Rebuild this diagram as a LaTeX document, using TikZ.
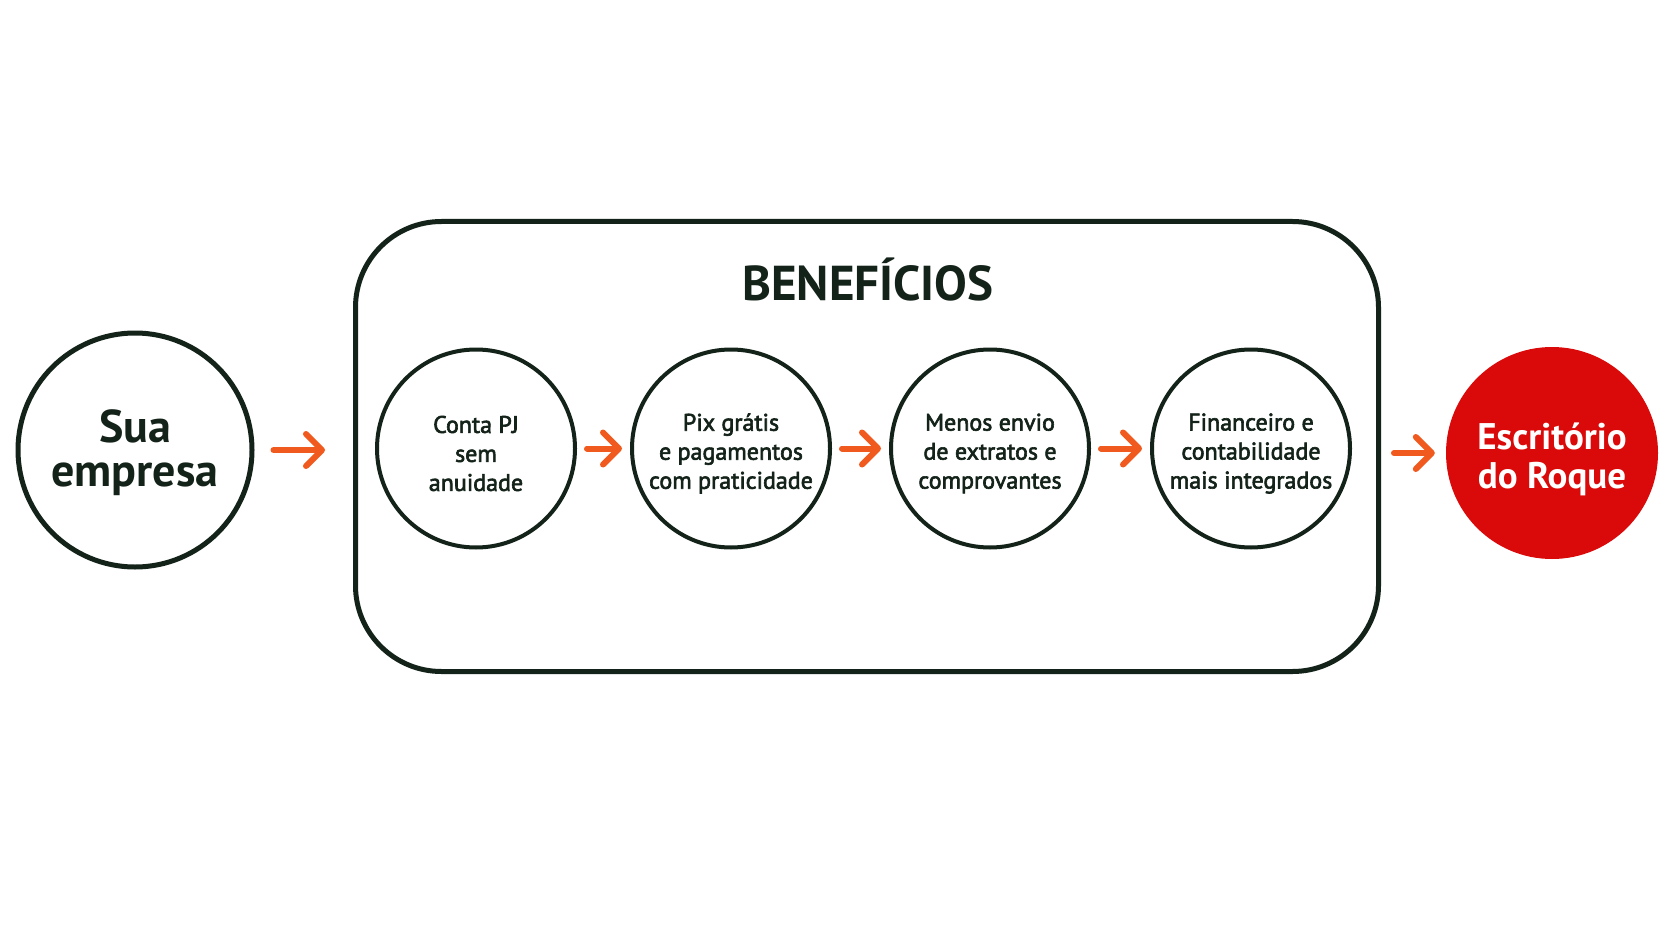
\documentclass[tikz,border=0pt]{standalone}
\usepackage{fontspec}
\setmainfont{PT Sans}
\newfontfamily\medfont{PT Sans}[FakeBold=2.5]
\usetikzlibrary{arrows.meta}

\definecolor{darkline}{HTML}{14231A}
\definecolor{arrorange}{HTML}{F05A1E}
\definecolor{roquered}{HTML}{DA0A0A}

\tikzset{
  stage/.style={circle, draw=darkline, line width=4pt, minimum size=198pt, inner sep=0pt},
  stagetext/.style={align=center, text=darkline, yshift=-5pt, font=\medfont\fontsize{24}{29}\selectfont},
  flow/.style={draw=arrorange, line width=6pt, line cap=round,
    -{Straight Barb[round, length=16pt, width=32pt]}},
}

\begin{document}
\begin{tikzpicture}[x=1pt, y=-1pt]
        \useasboundingbox (0,0) rectangle (1672,941);
        \fill[white] (0,0) rectangle (1672,941);

        % start and end
        \node[circle, draw=darkline, line width=5pt, minimum size=234pt, align=center, text=darkline,
          font=\bfseries\fontsize{46}{44}\selectfont] (sua) at (135,450) {\rule{0pt}{39pt}Sua\\empresa};
        \node[circle, fill=roquered, minimum size=212pt, align=center, text=white,
          font=\bfseries\fontsize{37}{39}\selectfont] (roque) at (1552,453) {\rule{0pt}{39pt}Escritório\\do Roque};

        % benefits frame
        \node[draw=darkline, line width=5pt, rounded corners=86pt, minimum width=1023pt,
          minimum height=450pt] (box) at (867,446.5) {};
        \node[anchor=base, text=darkline, font=\bfseries\fontsize{49}{56}\selectfont] (title) at (868,300) {BENEFÍCIOS};

        \node[stage, label={[stagetext]center:{Conta PJ\\sem\\anuidade}}] (c1) at (476,448.5) {};
        \node[stage, label={[stagetext]center:{Pix grátis\\e pagamentos\\com praticidade}}] (c2) at (731,448.5) {};
        \node[stage, label={[stagetext]center:{Menos envio\\de extratos e\\comprovantes}}] (c3) at (990,448.5) {};
        \node[stage, label={[stagetext]center:{Financeiro e\\contabilidade\\mais integrados}}] (c4) at (1251,448.5) {};

        % arrows
        \draw[flow, shorten <=19pt, shorten >=28pt] (sua) -- (box.west |- sua);
        \foreach \a/\b in {c1/c2, c2/c3, c3/c4}
          \draw[flow, shorten <=10pt, shorten >=8pt] (\a) -- (\b);
        \draw[flow, shorten <=13pt, shorten >=11pt] (box.east |- roque) -- (roque);
      \end{tikzpicture}
\end{document}
